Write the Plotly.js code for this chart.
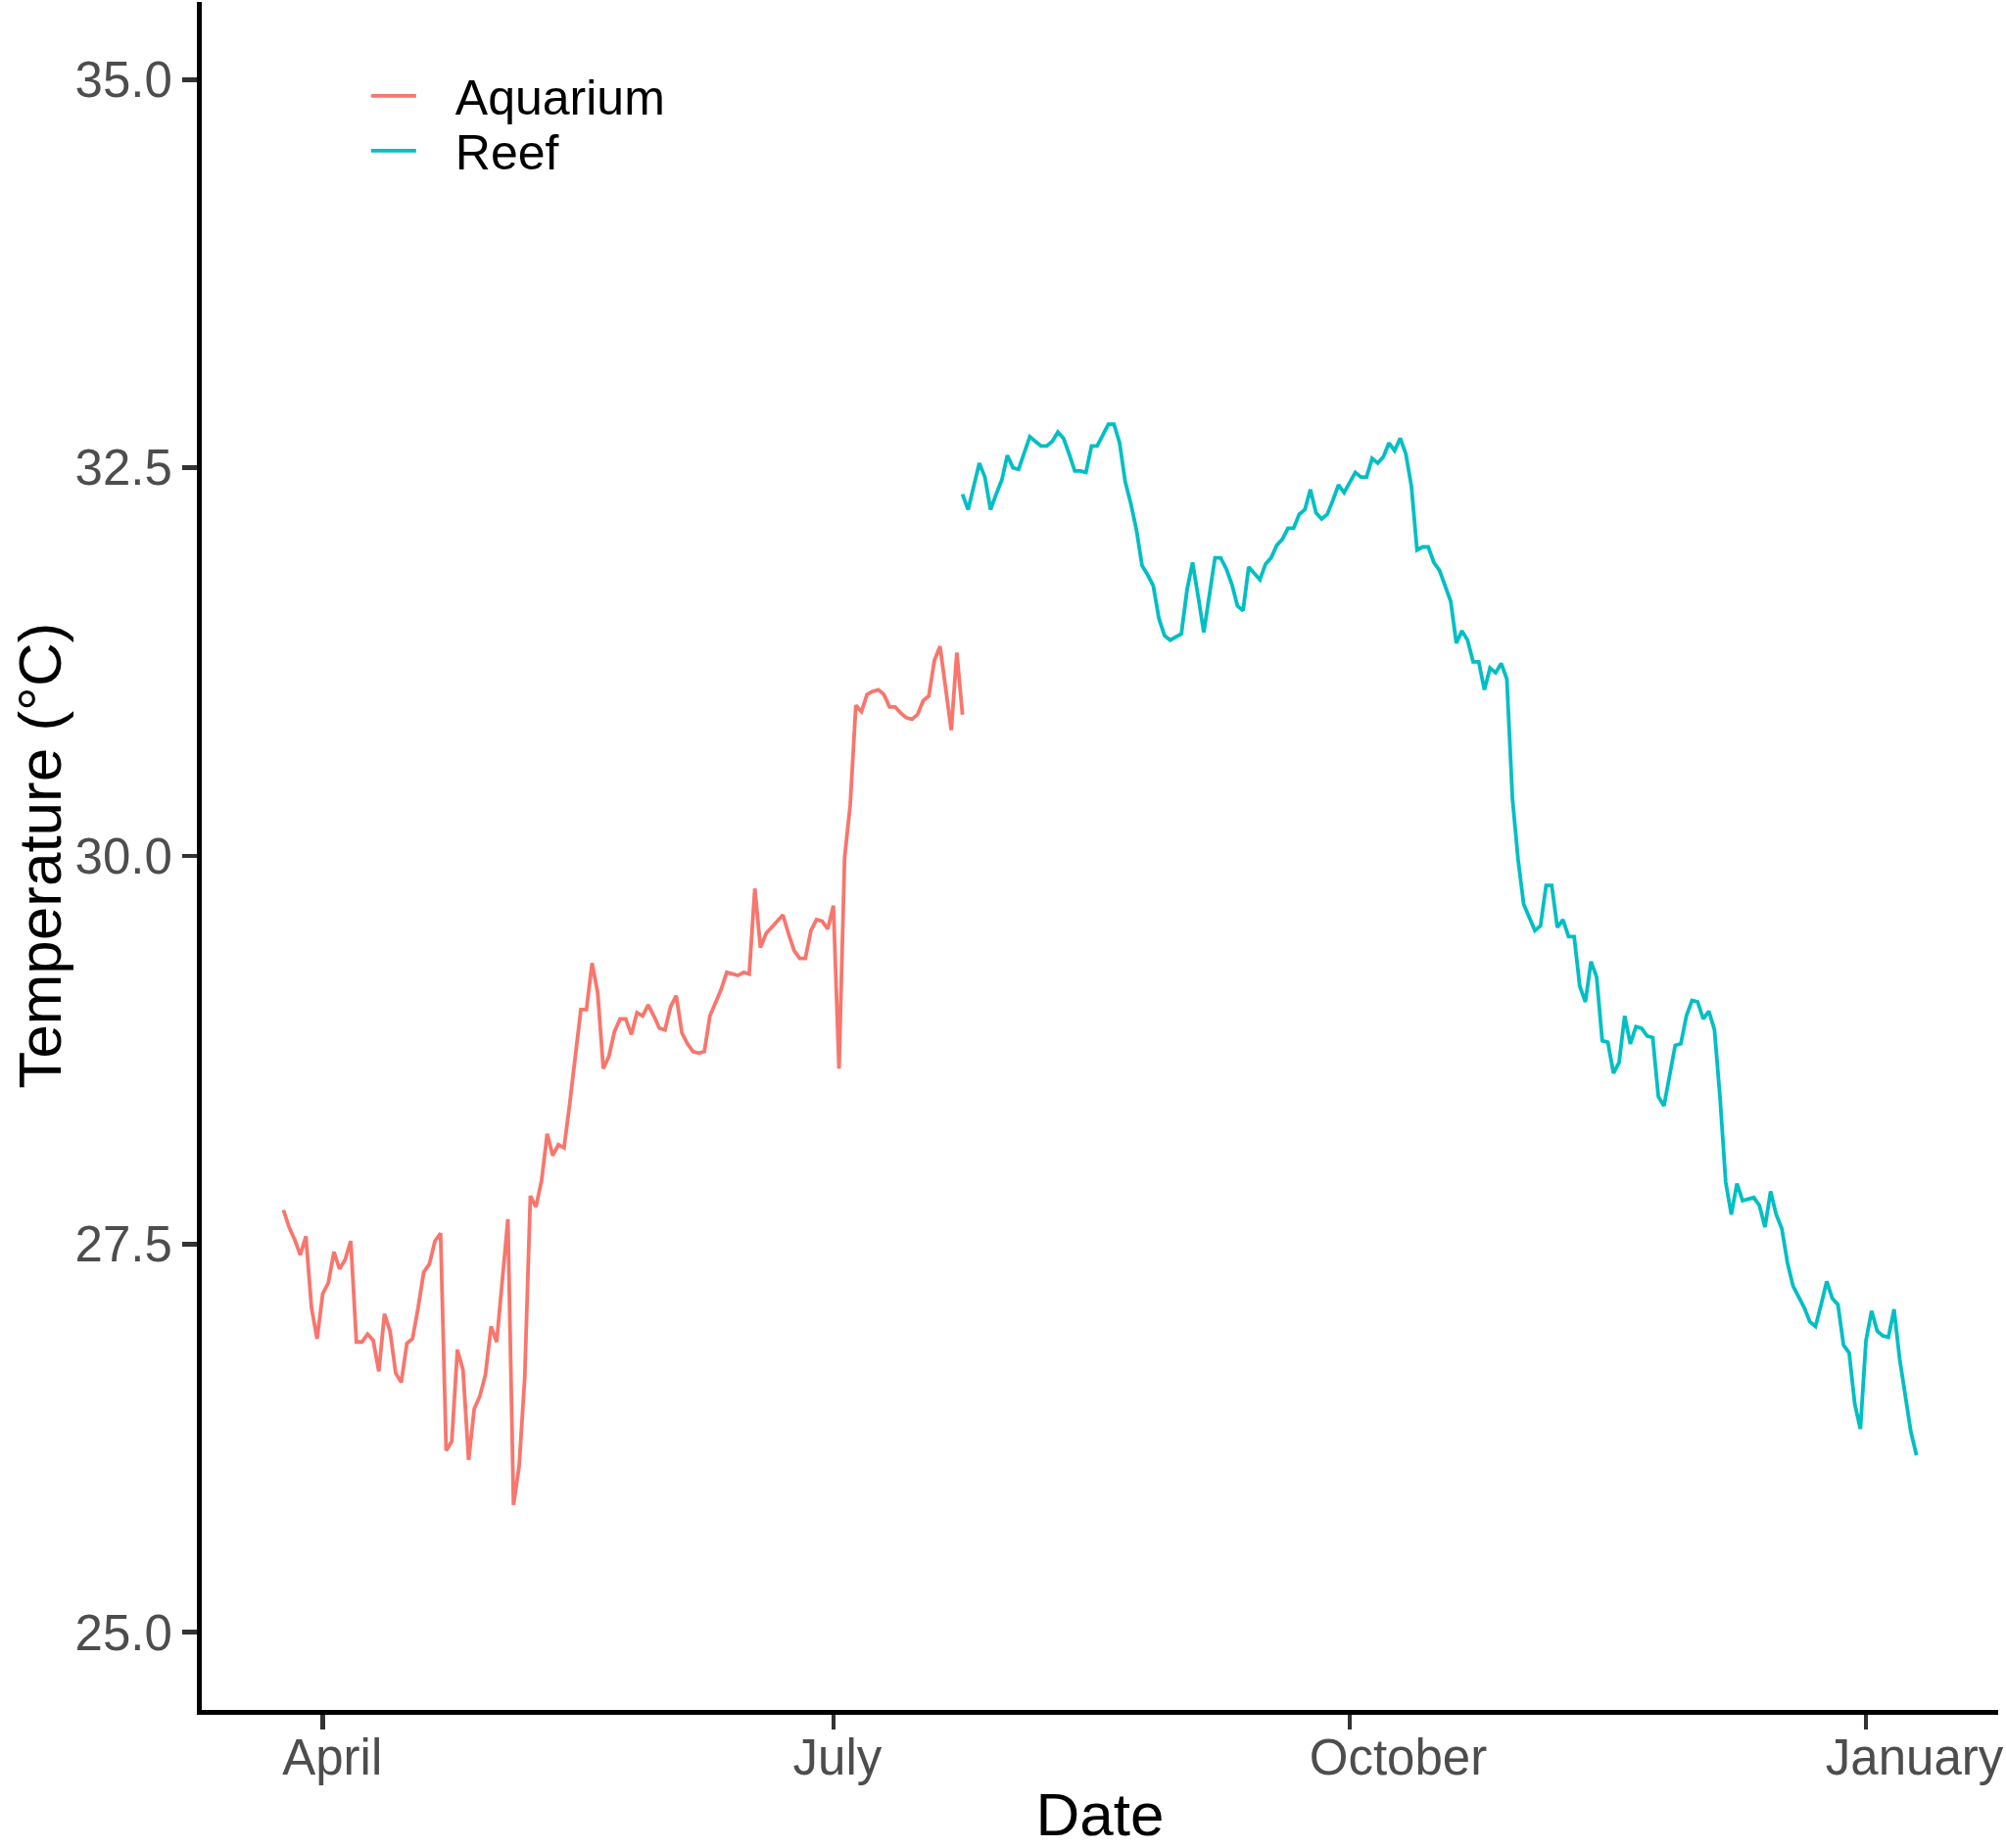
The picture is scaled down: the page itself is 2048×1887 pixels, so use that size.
<!DOCTYPE html>
<html>
<head>
<meta charset="utf-8">
<script src="https://cdn.plot.ly/plotly-3.0.1.min.js"></script>
<style>
  html, body { margin: 0; padding: 0; background: #ffffff; }
  #chart { width: 2048px; height: 1887px; }
</style>
</head>
<body>
<div id="chart"></div>
<script>
// ---- Data (daily temperatures, °C) ----
const aquariumStart = '2019-03-25';
const aquariumTemp = [
  27.72, 27.61, 27.53, 27.43, 27.55, 27.09, 26.89, 27.18, 27.25, 27.45,
  27.34, 27.40, 27.52, 26.87, 26.87, 26.92, 26.88, 26.68, 27.05, 26.94,
  26.67, 26.61, 26.86, 26.89, 27.09, 27.32, 27.37, 27.52, 27.57, 26.17,
  26.23, 26.82, 26.69, 26.11, 26.44, 26.52, 26.66, 26.97, 26.87, 27.27,
  27.66, 25.82, 26.07, 26.64, 27.81, 27.74, 27.91, 28.21, 28.07, 28.14,
  28.12, 28.40, 28.72, 29.01, 29.01, 29.31, 29.12, 28.63, 28.71, 28.87,
  28.95, 28.95, 28.85, 28.99, 28.97, 29.04, 28.97, 28.89, 28.88, 29.03,
  29.10, 28.86, 28.79, 28.74, 28.73, 28.74, 28.97, 29.05, 29.14, 29.25,
  29.24, 29.23, 29.25, 29.24, 29.79, 29.41, 29.50, 29.54, 29.58, 29.62,
  29.50, 29.39, 29.34, 29.34, 29.52, 29.59, 29.58, 29.53, 29.68, 28.63,
  29.99, 30.33, 30.97, 30.93, 31.04, 31.06, 31.07, 31.04, 30.96, 30.96,
  30.92, 30.89, 30.88, 30.91, 31.00, 31.03, 31.26, 31.35, 31.08, 30.81,
  31.31, 30.91
];

const reefStart = '2019-07-24';
const reefTemp = [
  32.33, 32.23, 32.38, 32.53, 32.44, 32.23, 32.33, 32.42, 32.58, 32.50,
  32.49, 32.59, 32.70, 32.67, 32.64, 32.64, 32.67, 32.73, 32.69, 32.59,
  32.48, 32.48, 32.47, 32.64, 32.64, 32.71, 32.78, 32.78, 32.66, 32.41,
  32.27, 32.10, 31.87, 31.81, 31.74, 31.53, 31.42, 31.39, 31.41, 31.43,
  31.71, 31.89, 31.67, 31.44, 31.68, 31.92, 31.92, 31.85, 31.75, 31.61,
  31.58, 31.86, 31.82, 31.78, 31.88, 31.92, 32.00, 32.04, 32.11, 32.11,
  32.20, 32.23, 32.36, 32.21, 32.17, 32.20, 32.29, 32.39, 32.34, 32.40,
  32.47, 32.44, 32.44, 32.56, 32.53, 32.57, 32.66, 32.61, 32.69, 32.59,
  32.38, 31.97, 31.99, 31.99, 31.89, 31.84, 31.74, 31.64, 31.37, 31.45,
  31.39, 31.25, 31.25, 31.07, 31.21, 31.18, 31.24, 31.14, 30.37, 29.98,
  29.69, 29.61, 29.52, 29.55, 29.81, 29.81, 29.54, 29.59, 29.48, 29.48,
  29.16, 29.06, 29.32, 29.22, 28.81, 28.80, 28.60, 28.67, 28.97, 28.79,
  28.90, 28.89, 28.84, 28.83, 28.45, 28.39, 28.57, 28.78, 28.79, 28.97,
  29.07, 29.06, 28.95, 29.00, 28.88, 28.44, 27.90, 27.69, 27.89, 27.78,
  27.79, 27.80, 27.75, 27.61, 27.84, 27.69, 27.60, 27.38, 27.23, 27.16,
  27.09, 27.00, 26.97, 27.11, 27.26, 27.15, 27.11, 26.85, 26.80, 26.47,
  26.31, 26.88, 27.07, 26.94, 26.91, 26.90, 27.08, 26.76, 26.53, 26.29,
  26.14
];

const seriesNames = ['Aquarium', 'Reef'];
const monthTickDates = ['2019-04-01', '2019-07-01', '2019-10-01', '2020-01-01'];
const monthTickLabels = ['April', 'July', 'October', 'January'];
const tempTickVals = [25, 27.5, 30, 32.5, 35];
const xTitle = 'Date';
const yTitle = 'Temperature (°C)';

// consecutive daily dates starting at a given day
function dailyDates(start, n) {
  const out = [];
  const d0 = new Date(start + 'T00:00:00Z');
  for (let i = 0; i < n; i++) {
    const d = new Date(d0.getTime() + i * 86400000);
    out.push(d.toISOString().slice(0, 10));
  }
  return out;
}

const FONT = '"Liberation Sans", Arial, Helvetica, sans-serif';
const legendFont = { family: FONT, size: 50, color: '#000000' };
const LEGEND_PAD = '\u2002\u2009'; // gap between key and label, as in the original

const traces = [
  {
    x: dailyDates(aquariumStart, aquariumTemp.length),
    y: aquariumTemp,
    type: 'scatter', mode: 'lines', name: LEGEND_PAD + seriesNames[0], legend: 'legend',
    line: { color: '#F8766D', width: 3.8 }
  },
  {
    x: dailyDates(reefStart, reefTemp.length),
    y: reefTemp,
    type: 'scatter', mode: 'lines', name: LEGEND_PAD + seriesNames[1], legend: 'legend2',
    line: { color: '#00BFC4', width: 3.8 }
  }
];

const layout = {
  width: 2048, height: 1887,
  margin: { l: 206, r: 8, t: 2, b: 141 },
  paper_bgcolor: '#ffffff', plot_bgcolor: '#ffffff',
  font: { family: FONT, color: '#000000' },
  showlegend: true,
  legend: {
    x: 0.0915, xanchor: 'left', y: 0.9450, yanchor: 'middle',
    itemwidth: 46,
    bgcolor: 'rgba(0,0,0,0)', borderwidth: 0, font: legendFont
  },
  legend2: {
    x: 0.0915, xanchor: 'left', y: 0.9129, yanchor: 'middle',
    itemwidth: 46,
    bgcolor: 'rgba(0,0,0,0)', borderwidth: 0, font: legendFont
  },
  xaxis: {
    type: 'date',
    range: ['2019-03-10 10:48', '2020-01-24 13:12'],
    tickmode: 'array', tickvals: monthTickDates, ticktext: monthTickLabels,
    ticklabelposition: 'outside right', ticklabelshift: -46, ticklabelstandoff: 0,
    ticklabeloverflow: 'allow',
    showgrid: false, zeroline: false,
    showline: true, linecolor: '#000000', linewidth: 5,
    ticks: 'outside', ticklen: 15, tickwidth: 4.5, tickcolor: '#333333',
    tickfont: { family: FONT, size: 51, color: '#4D4D4D' },
    title: { text: xTitle, font: { family: FONT, size: 62, color: '#000000' }, standoff: 24 }
  },
  yaxis: {
    range: [24.5, 35.5],
    tickmode: 'array', tickvals: tempTickVals, tickformat: '.1f',
    showgrid: false, zeroline: false,
    showline: true, linecolor: '#000000', linewidth: 5,
    ticks: 'outside', ticklen: 15, tickwidth: 4.5, tickcolor: '#333333',
    tickfont: { family: FONT, size: 51, color: '#4D4D4D' }
  },
  annotations: [
    {
      text: yTitle, textangle: -90, showarrow: false,
      xref: 'paper', yref: 'paper', x: -0.0906, y: 0.5,
      xanchor: 'center', yanchor: 'middle',
      font: { family: FONT, size: 62, color: '#000000' }
    }
  ]
};

Plotly.newPlot('chart', traces, layout, { staticPlot: true, displayModeBar: false });
</script>
</body>
</html>
